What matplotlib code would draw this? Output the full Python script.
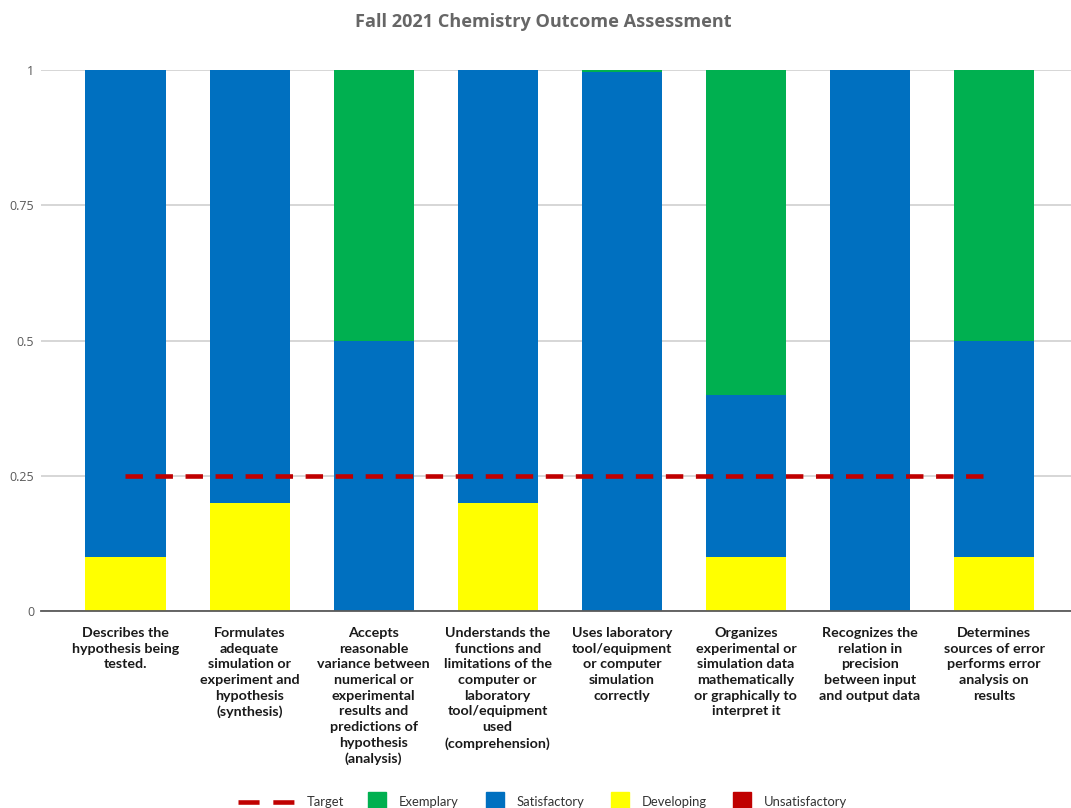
import matplotlib
matplotlib.use("Agg")
import matplotlib.pyplot as plt
from matplotlib.lines import Line2D
from matplotlib.patches import Rectangle
import numpy as np

categories = [
    "Describes the\nhypothesis being\ntested.",
    "Formulates\nadequate\nsimulation or\nexperiment and\nhypothesis\n(synthesis)",
    "Accepts\nreasonable\nvariance between\nnumerical or\nexperimental\nresults and\npredictions of\nhypothesis\n(analysis)",
    "Understands the\nfunctions and\nlimitations of the\ncomputer or\nlaboratory\ntool/equipment\nused\n(comprehension)",
    "Uses laboratory\ntool/equipment\nor computer\nsimulation\ncorrectly",
    "Organizes\nexperimental or\nsimulation data\nmathematically\nor graphically to\ninterpret it",
    "Recognizes the\nrelation in\nprecision\nbetween input\nand output data",
    "Determines\nsources of error\nperforms error\nanalysis on\nresults",
]
unsatisfactory = [0, 0, 0, 0, 0, 0, 0, 0]
developing = [0.1, 0.2, 0, 0.2, 0, 0.1, 0, 0.1]
satisfactory = [0.9, 0.8, 0.5, 0.8, 0.997, 0.3, 1.0, 0.4]
exemplary = [0, 0, 0.5, 0, 0.003, 0.6, 0, 0.5]
target = [0.25] * 8

series_names = ["Unsatisfactory", "Developing", "Satisfactory", "Exemplary"]
series_vals = [unsatisfactory, developing, satisfactory, exemplary]
series_colors = {"Unsatisfactory": "#c00000", "Developing": "#ffff00",
                 "Satisfactory": "#0070c0", "Exemplary": "#00b050"}
yticks = [0, 0.25, 0.5, 0.75, 1]
ytick_labels = ["0", "0.25", "0.5", "0.75", "1"]
title = "Fall 2021 Chemistry Outcome Assessment"

W, H = 1071, 808
fig = plt.figure(figsize=(W / 100, H / 100), dpi=100)
ax = fig.add_axes([41 / W, (H - 611) / H, (W - 41) / W, (611 - 70) / H])

x = np.arange(len(categories))
bottom = np.zeros(len(categories))
for name, vals in zip(series_names, series_vals):
    v = np.array(vals, dtype=float)
    ax.bar(x, v, width=0.645, bottom=bottom, color=series_colors[name],
           edgecolor="none", zorder=2)
    bottom += v

ax.plot(x, target, color="#c00000", lw=3.3, dashes=(3.8, 2.75),
        solid_capstyle="butt", dash_capstyle="butt", zorder=3)

ax.set_ylim(0, 1)
ax.set_xlim(-0.681, 7.62)
ax.set_yticks(yticks)
ax.set_yticklabels(ytick_labels, fontfamily="Open Sans", fontsize=9, color="#595959")
ax.tick_params(axis="y", length=0, pad=5)
ax.set_xticks(x)
ax.set_xticklabels(categories, fontfamily="Lato", fontweight="bold", fontsize=10.3,
                   color="#1a1a1a", linespacing=1.37)
ax.tick_params(axis="x", length=0, pad=11.5)
for s in ["top", "right", "left"]:
    ax.spines[s].set_visible(False)
ax.spines["bottom"].set_color("#595959")
ax.spines["bottom"].set_linewidth(1.3)
ax.spines["bottom"].set_zorder(4)
ax.yaxis.grid(True, color="#d0d0d0", lw=1.2, zorder=0)
ax.set_axisbelow(True)

fig.text(543 / W, 1 - 22 / H, title, ha="center", va="center",
         fontfamily="Open Sans", fontweight="bold", fontsize=13.1, color="#666666")

# legend (manual)
ly = 1 - 802 / H
fig.add_artist(Line2D([238 / W, 294 / W], [ly, ly], transform=fig.transFigure,
                      color="#c00000", lw=3.3, dashes=(4.6, 3.0), solid_capstyle="butt",
                      dash_capstyle="butt"))
fig.text(307 / W, ly, "Target", ha="left", va="center", fontfamily="Lato",
         fontsize=9.4, color="#333333")
legend_items = [("Exemplary", 368, 399), ("Satisfactory", 486, 517),
                ("Developing", 611, 642), ("Unsatisfactory", 733, 764)]
for name, px, tx in legend_items:
    fig.add_artist(Rectangle((px / W, 1 - 810 / H), 18 / W, 18 / H,
                             transform=fig.transFigure, color=series_colors[name]))
    fig.text(tx / W, ly, name, ha="left", va="center", fontfamily="Lato",
             fontsize=9.4, color="#333333")

fig.savefig("out.png", dpi=100)
